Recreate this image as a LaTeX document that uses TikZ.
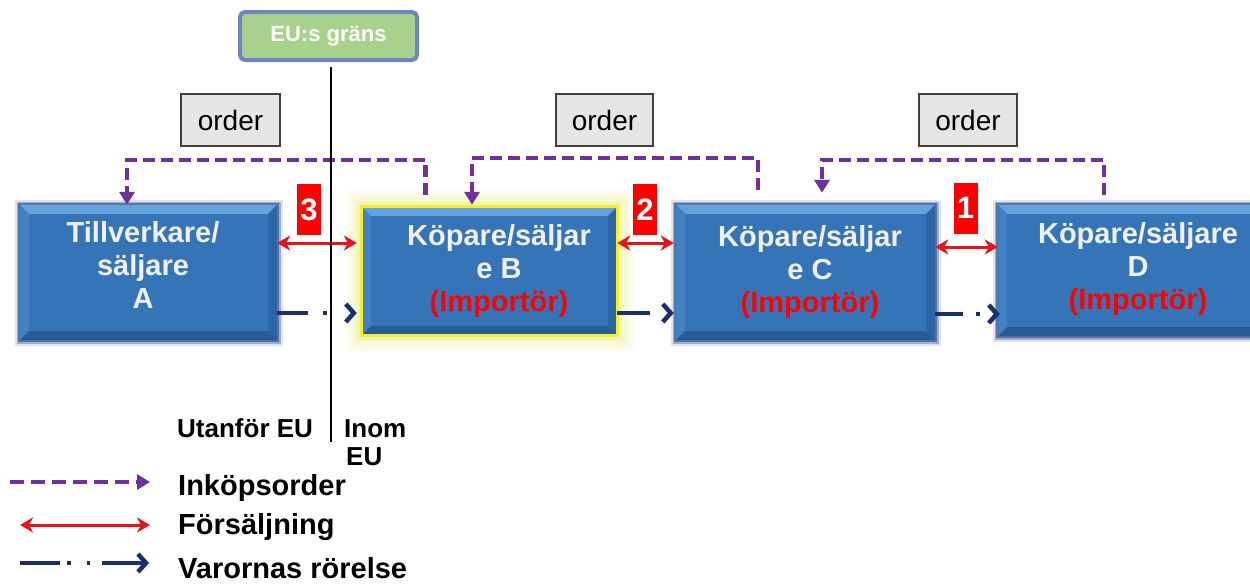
\documentclass[tikz,border=0pt]{standalone}
\usepackage{fontspec}
\setmainfont{Liberation Sans}
\usetikzlibrary{arrows.meta,calc}

\definecolor{boxblue}{HTML}{3574B6}
\definecolor{bevtop}{HTML}{64A2DC}
\definecolor{bevleft}{HTML}{4082C3}
\definecolor{bevright}{HTML}{2C65A6}
\definecolor{bevbot}{HTML}{275B98}
\definecolor{edgeblue}{HTML}{2C4C8A}
\definecolor{ordpurple}{HTML}{7030A0}
\definecolor{salered}{HTML}{E8141B}
\definecolor{goodsnavy}{HTML}{1B2F6E}
\definecolor{eugreen}{HTML}{A9D18E}
\definecolor{euedge}{HTML}{6F86BC}
\definecolor{ordgrey}{HTML}{E6E6E6}
\definecolor{glowyellow}{HTML}{EEEE70}
\definecolor{rimyellow}{HTML}{F0F030}
\definecolor{boxwhite}{HTML}{F0F0F0}

% bevelled faces drawn on top of a block node
\newcommand\bevelfaces[1]{%
  \fill[bevtop] (#1.north west) -- (#1.north east)
     -- ([xshift=-9pt,yshift=-9pt]#1.north east) -- ([xshift=9pt,yshift=-9pt]#1.north west) -- cycle;
  \fill[bevleft] (#1.north west) -- ([xshift=9pt,yshift=-9pt]#1.north west)
     -- ([xshift=9pt,yshift=9pt]#1.south west) -- (#1.south west) -- cycle;
  \fill[bevright] (#1.north east) -- ([xshift=-9pt,yshift=-9pt]#1.north east)
     -- ([xshift=-9pt,yshift=9pt]#1.south east) -- (#1.south east) -- cycle;
  \fill[bevbot] (#1.south west) -- ([xshift=9pt,yshift=9pt]#1.south west)
     -- ([xshift=-9pt,yshift=9pt]#1.south east) -- (#1.south east) -- cycle;
}

\begin{document}
\begin{tikzpicture}[x=1pt,y=-1pt,
  blockbox/.style={rectangle, inner sep=0pt, fill=boxblue,
    preaction={draw=edgeblue, line width=11pt, opacity=0.15, rounded corners=4pt},
    preaction={draw=edgeblue, line width=7pt, opacity=0.35, rounded corners=2pt},
    preaction={draw=edgeblue, line width=4pt, opacity=0.6}},
  glowbox/.style={rectangle, inner sep=0pt, fill=boxblue,
    preaction={draw=glowyellow, line width=34pt, opacity=0.08, rounded corners=12pt},
    preaction={draw=glowyellow, line width=26pt, opacity=0.12, rounded corners=8pt},
    preaction={draw=glowyellow, line width=18pt, opacity=0.18, rounded corners=5pt},
    preaction={draw=glowyellow, line width=10pt, opacity=0.3}},
  blocktext/.style={text=boxwhite, align=center, inner sep=0pt,
    font=\bfseries\fontsize{29}{33}\selectfont},
  orderbox/.style={draw=black!75, line width=1.3pt, fill=ordgrey, inner sep=0pt,
    minimum height=52pt, font=\fontsize{28}{30}\selectfont},
  numtag/.style={fill=red, text=white, inner sep=0pt, minimum width=24pt,
    minimum height=51pt, font=\bfseries\fontsize{31}{31}\selectfont},
  orderflow/.style={ordpurple, line width=4.5pt, dash pattern=on 12pt off 6pt,
    -{Triangle[length=13pt,width=15pt]}},
  saleflow/.style={salered, line width=3pt,
    {Stealth[length=13pt,width=15pt,inset=4pt]}-{Stealth[length=13pt,width=15pt,inset=4pt]}},
  goodsflow/.style={goodsnavy, line width=3.5pt,
    -{Straight Barb[length=8pt,width=18pt,line width=4.5pt]}},
  legendtext/.style={anchor=base west, inner sep=0pt,
    font=\bfseries\fontsize{29}{29}\selectfont},
  sidetext/.style={anchor=base west, inner sep=0pt,
    font=\bfseries\fontsize{26}{26}\selectfont}
]
\useasboundingbox (0,0) rectangle (1250,584);
\clip (0,0) rectangle (1250,584);
\fill[white] (0,0) rectangle (1250,584);

% actors
\node[blockbox, minimum width=257pt, minimum height=135pt] (A) at (148.5,272.5) {};
\bevelfaces{A}
\node[glowbox, minimum width=255pt, minimum height=128pt] (B) at (489.5,271) {};
\bevelfaces{B}
\draw[rimyellow, line width=3pt] (B.north west) rectangle (B.south east);
\node[blockbox, minimum width=259pt, minimum height=135pt] (C) at (805.5,272.5) {};
\bevelfaces{C}
\node[blockbox, minimum width=280pt, minimum height=131pt] (D) at (1138,270.5) {};
\bevelfaces{D}

\node[blocktext] (Atext) at (143,265) {Tillverkare/\\säljare\\A};
\node[blocktext] (Btext) at (499,270.5) {Köpare/säljar\\e B\\\textcolor{red}{(Importör)}};
\node[blocktext] (Ctext) at (810,271.5) {Köpare/säljar\\e C\\\textcolor{red}{(Importör)}};
\node[blocktext] (Dtext) at (1138,268.5) {Köpare/säljare\\D\\\textcolor{red}{(Importör)}};

% EU border
\node[rectangle, rounded corners=5pt, fill=eugreen, draw=euedge, line width=4pt,
  minimum width=177pt, minimum height=48pt, inner sep=0pt, text=white,
  font=\bfseries\fontsize{22}{22}\selectfont] (eu) at (328.5,36) {EU:s gräns};

% order labels
\node[orderbox, minimum width=99pt] (o1) at (230.5,120) {order};
\node[orderbox, minimum width=97pt] (o2) at (604.5,120) {order};
\node[orderbox, minimum width=98pt] (o3) at (968,120) {order};

% purchase orders
\draw[orderflow] ([xshift=-64pt,yshift=12pt]B.north) -- ++(0,-35) -| ([xshift=-21.5pt]A.north);
\draw[orderflow] ([xshift=-47.5pt,yshift=15pt]C.north) -- ++(0,-32) -| ([xshift=-17.5pt,yshift=2pt]B.north);
\draw[orderflow] ([xshift=-34pt,yshift=10pt]D.north) -- ++(0,-35) -| ([xshift=16.5pt,yshift=12pt]C.north);

% sales
\draw[saleflow] ([yshift=29.5pt]A.east) -- ([xshift=-5pt,yshift=28pt]B.west);
\draw[saleflow] ([yshift=28pt]B.east) -- ([xshift=-2pt,yshift=29.5pt]C.west);
\draw[saleflow] ([yshift=25.5pt]C.east) -- ([yshift=23.5pt]D.west);

\node[numtag] (n3) at (309,209.5) {3};
\node[numtag] (n2) at (645,209.5) {2};
\node[numtag] (n1) at (965.5,208) {1};

% movement of goods
\draw[goodsflow, dash pattern=on 31pt off 15pt on 3.5pt off 40pt]
  ([yshift=-40.5pt]A.east) -- ([xshift=-5pt,yshift=-42pt]B.west);
\draw[goodsflow, dash pattern=on 33pt off 40pt]
  ([yshift=-42pt]B.east) -- ([xshift=-2pt,yshift=-40.5pt]C.west);
\draw[goodsflow, dash pattern=on 28pt off 13pt on 3.5pt off 40pt]
  ([yshift=-41.5pt]C.east) -- ([xshift=2pt,yshift=-43.5pt]D.west);

% border line
\coordinate (bordertop) at (331,67);
\coordinate (borderbot) at (331,442);
\draw[black, line width=2.8pt] (bordertop) -- (borderbot);

\node[sidetext] (outside) at (177,437) {Utanför EU};
\node[sidetext] (inside1) at (344,437) {Inom};
\node[sidetext] (inside2) at (346,465) {EU};

% legend
\coordinate (l1s) at (10,482);  \coordinate (l1e) at (150,482);
\coordinate (l2s) at (20,525);  \coordinate (l2e) at (150,525);
\coordinate (l3s) at (20,563);  \coordinate (l3e) at (149,563);
\draw[orderflow, dash pattern=on 14pt off 7pt] (l1s) -- (l1e);
\draw[saleflow] (l2s) -- (l2e);
\draw[goodsflow, dash pattern=on 40pt off 7pt on 3.5pt off 16pt on 3.5pt off 12pt on 60pt]
  (l3s) -- (l3e);
\node[legendtext] (lg1) at (178,495) {Inköpsorder};
\node[legendtext] (lg2) at (178,534) {Försäljning};
\node[legendtext] (lg3) at (178,578) {Varornas rörelse};
\end{tikzpicture}
\end{document}
